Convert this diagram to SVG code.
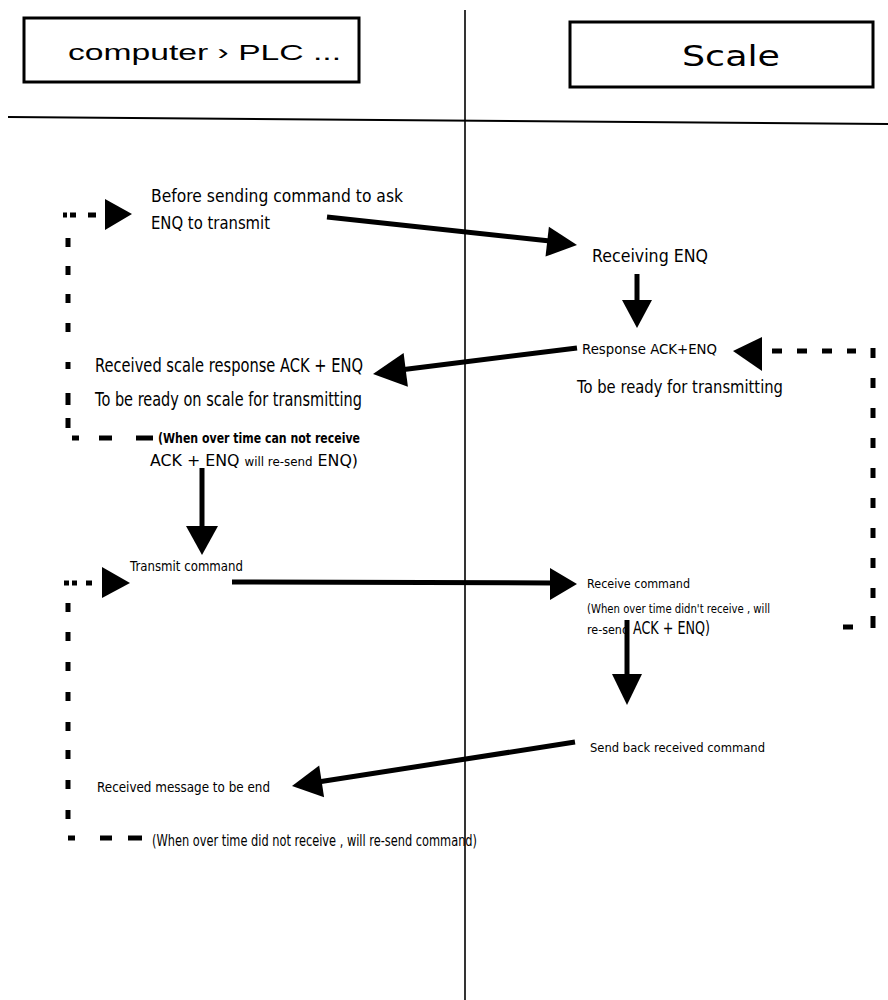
<svg xmlns="http://www.w3.org/2000/svg" width="888" height="1000" viewBox="0 0 888 1000">
<style>
.t{font-family:"DejaVu Sans","Liberation Sans",sans-serif;fill:#000}
.h{font-family:"Liberation Sans","DejaVu Sans",sans-serif;fill:#000}
.b{font-weight:bold}
.box{fill:none;stroke:#000;stroke-width:3}
.ln{fill:none;stroke:#000}
.arr{fill:none;stroke:#000;stroke-width:5}
.hd{fill:#000;stroke:none}
.dash{fill:none;stroke:#000;stroke-width:5}
</style>
<rect width="888" height="1000" fill="#fff"/>
<g id="lanes">
<path class="ln" d="M465 10 V1000" stroke-width="1.6"/>
<path class="ln" d="M8 117 L888 124" stroke-width="2"/>
</g>
<g id="header-computer">
<rect class="box" x="24" y="18" width="335" height="64"/>
<text class="h" x="68" y="60" font-size="22" textLength="273" lengthAdjust="spacingAndGlyphs">computer › PLC ...</text>
</g>
<g id="header-scale">
<rect class="box" x="570" y="22" width="303" height="65"/>
<text class="t" x="682" y="66" font-size="29" textLength="98" lengthAdjust="spacingAndGlyphs">Scale</text>
</g>
<g id="n-before">
<text class="t" x="151" y="202" font-size="18" textLength="252" lengthAdjust="spacingAndGlyphs">Before sending command to ask</text>
<text class="t" x="151" y="229" font-size="18" textLength="119" lengthAdjust="spacingAndGlyphs">ENQ to transmit</text>
</g>
<g id="n-receiving">
<text class="t" x="592" y="262" font-size="18" textLength="116" lengthAdjust="spacingAndGlyphs">Receiving ENQ</text>
</g>
<g id="n-response">
<text class="t" x="582" y="354" font-size="14" textLength="135" lengthAdjust="spacingAndGlyphs">Response  ACK+ENQ</text>
<text class="t" x="577" y="393" font-size="18" textLength="206" lengthAdjust="spacingAndGlyphs">To be ready for transmitting</text>
</g>
<g id="n-received-scale">
<text class="t" x="95" y="372" font-size="19" textLength="268" lengthAdjust="spacingAndGlyphs">Received scale response  ACK + ENQ</text>
<text class="t" x="95" y="406" font-size="19" textLength="267" lengthAdjust="spacingAndGlyphs">To be ready on scale for transmitting</text>
<text class="t b" x="158" y="443" font-size="14" textLength="202" lengthAdjust="spacingAndGlyphs">(When over time can not receive</text>
<text class="t" x="150" y="466" font-size="16" textLength="208" lengthAdjust="spacingAndGlyphs">ACK +  ENQ <tspan font-size="12">will re-send</tspan>  ENQ)</text>
</g>
<g id="n-transmit">
<text class="t" x="130" y="571" font-size="14" textLength="113" lengthAdjust="spacingAndGlyphs">Transmit command</text>
</g>
<g id="n-receive-cmd">
<text class="t" x="587" y="588" font-size="13" textLength="103" lengthAdjust="spacingAndGlyphs">Receive command</text>
<text class="t" x="587" y="613" font-size="13" textLength="183" lengthAdjust="spacingAndGlyphs">(When over time didn't receive , will</text>
<text class="t" x="587" y="634" font-size="13" textLength="42" lengthAdjust="spacingAndGlyphs">re-send</text>
<text class="t" x="633" y="634" font-size="18" textLength="77" lengthAdjust="spacingAndGlyphs">ACK + ENQ)</text>
</g>
<g id="n-send-back">
<text class="t" x="590" y="752" font-size="13" textLength="175" lengthAdjust="spacingAndGlyphs">Send back received command</text>
</g>
<g id="n-end">
<text class="t" x="97" y="792" font-size="14" textLength="173" lengthAdjust="spacingAndGlyphs">Received message to be end</text>
<text class="t" x="152" y="846" font-size="15" textLength="325" lengthAdjust="spacingAndGlyphs">(When over time did not receive , will re-send command)</text>
</g>
<g id="connectors">
<path class="arr" d="M327 217 L550 241"/>
<polygon class="hd" points="577,245 548.9,226.8 545.5,256.6"/>
<path class="arr" d="M637 274 V302"/>
<polygon class="hd" points="622,300 652,300 637,328"/>
<path class="arr" d="M577 348 L400 370"/>
<polygon class="hd" points="373,374 407.9,386.7 403.6,352.9"/>
<path class="arr" d="M202 468 V528"/>
<polygon class="hd" points="186,526 218,526 202,555"/>
<path class="arr" d="M232 582 L552 583"/>
<polygon class="hd" points="550,568 550,600 577,584"/>
<path class="arr" d="M627 620 V676" stroke-width="6"/>
<polygon class="hd" points="612,674 642,674 627,705"/>
<path class="arr" d="M575 742 L318 782"/>
<polygon class="hd" points="292,786 324.1,797.2 319.2,765.6"/>
<path class="dash" d="M63 215 H67 M70 215 H76 M88 215 H96"/>
<polygon class="hd" points="105,199 105,230 132,214"/>
<path class="dash" d="M68 238 V247 M68 266 V275 M68 294 V303 M68 323 V332 M68 362 V369 M68 393 V405 M68 418 V428 M72 438 H79 M99 438 H112 M136 438 H153"/>
<polygon class="hd" points="733,351 762,337 762,371"/>
<path class="dash" d="M772 351 H782 M797 351 H807 M822 351 H832 M847 351 H856 M873 348 V358 M873 378 V388 M873 408 V418 M873 438 V448 M873 468 V478 M873 498 V508 M873 528 V538 M873 558 V568 M873 588 V598 M873 616 V628 M843 627 H853"/>
<path class="dash" d="M64 583 H69 M72 583 H77 M86 583 H92"/>
<polygon class="hd" points="102,567 102,598 130,583"/>
<path class="dash" d="M68 603 V612 M68 632 V641 M68 662 V671 M68 692 V701 M68 722 V731 M68 750 V759 M68 780 V789 M68 810 V819 M68 838 H75 M100 838 H112 M128 838 H142"/>
</g>
</svg>
